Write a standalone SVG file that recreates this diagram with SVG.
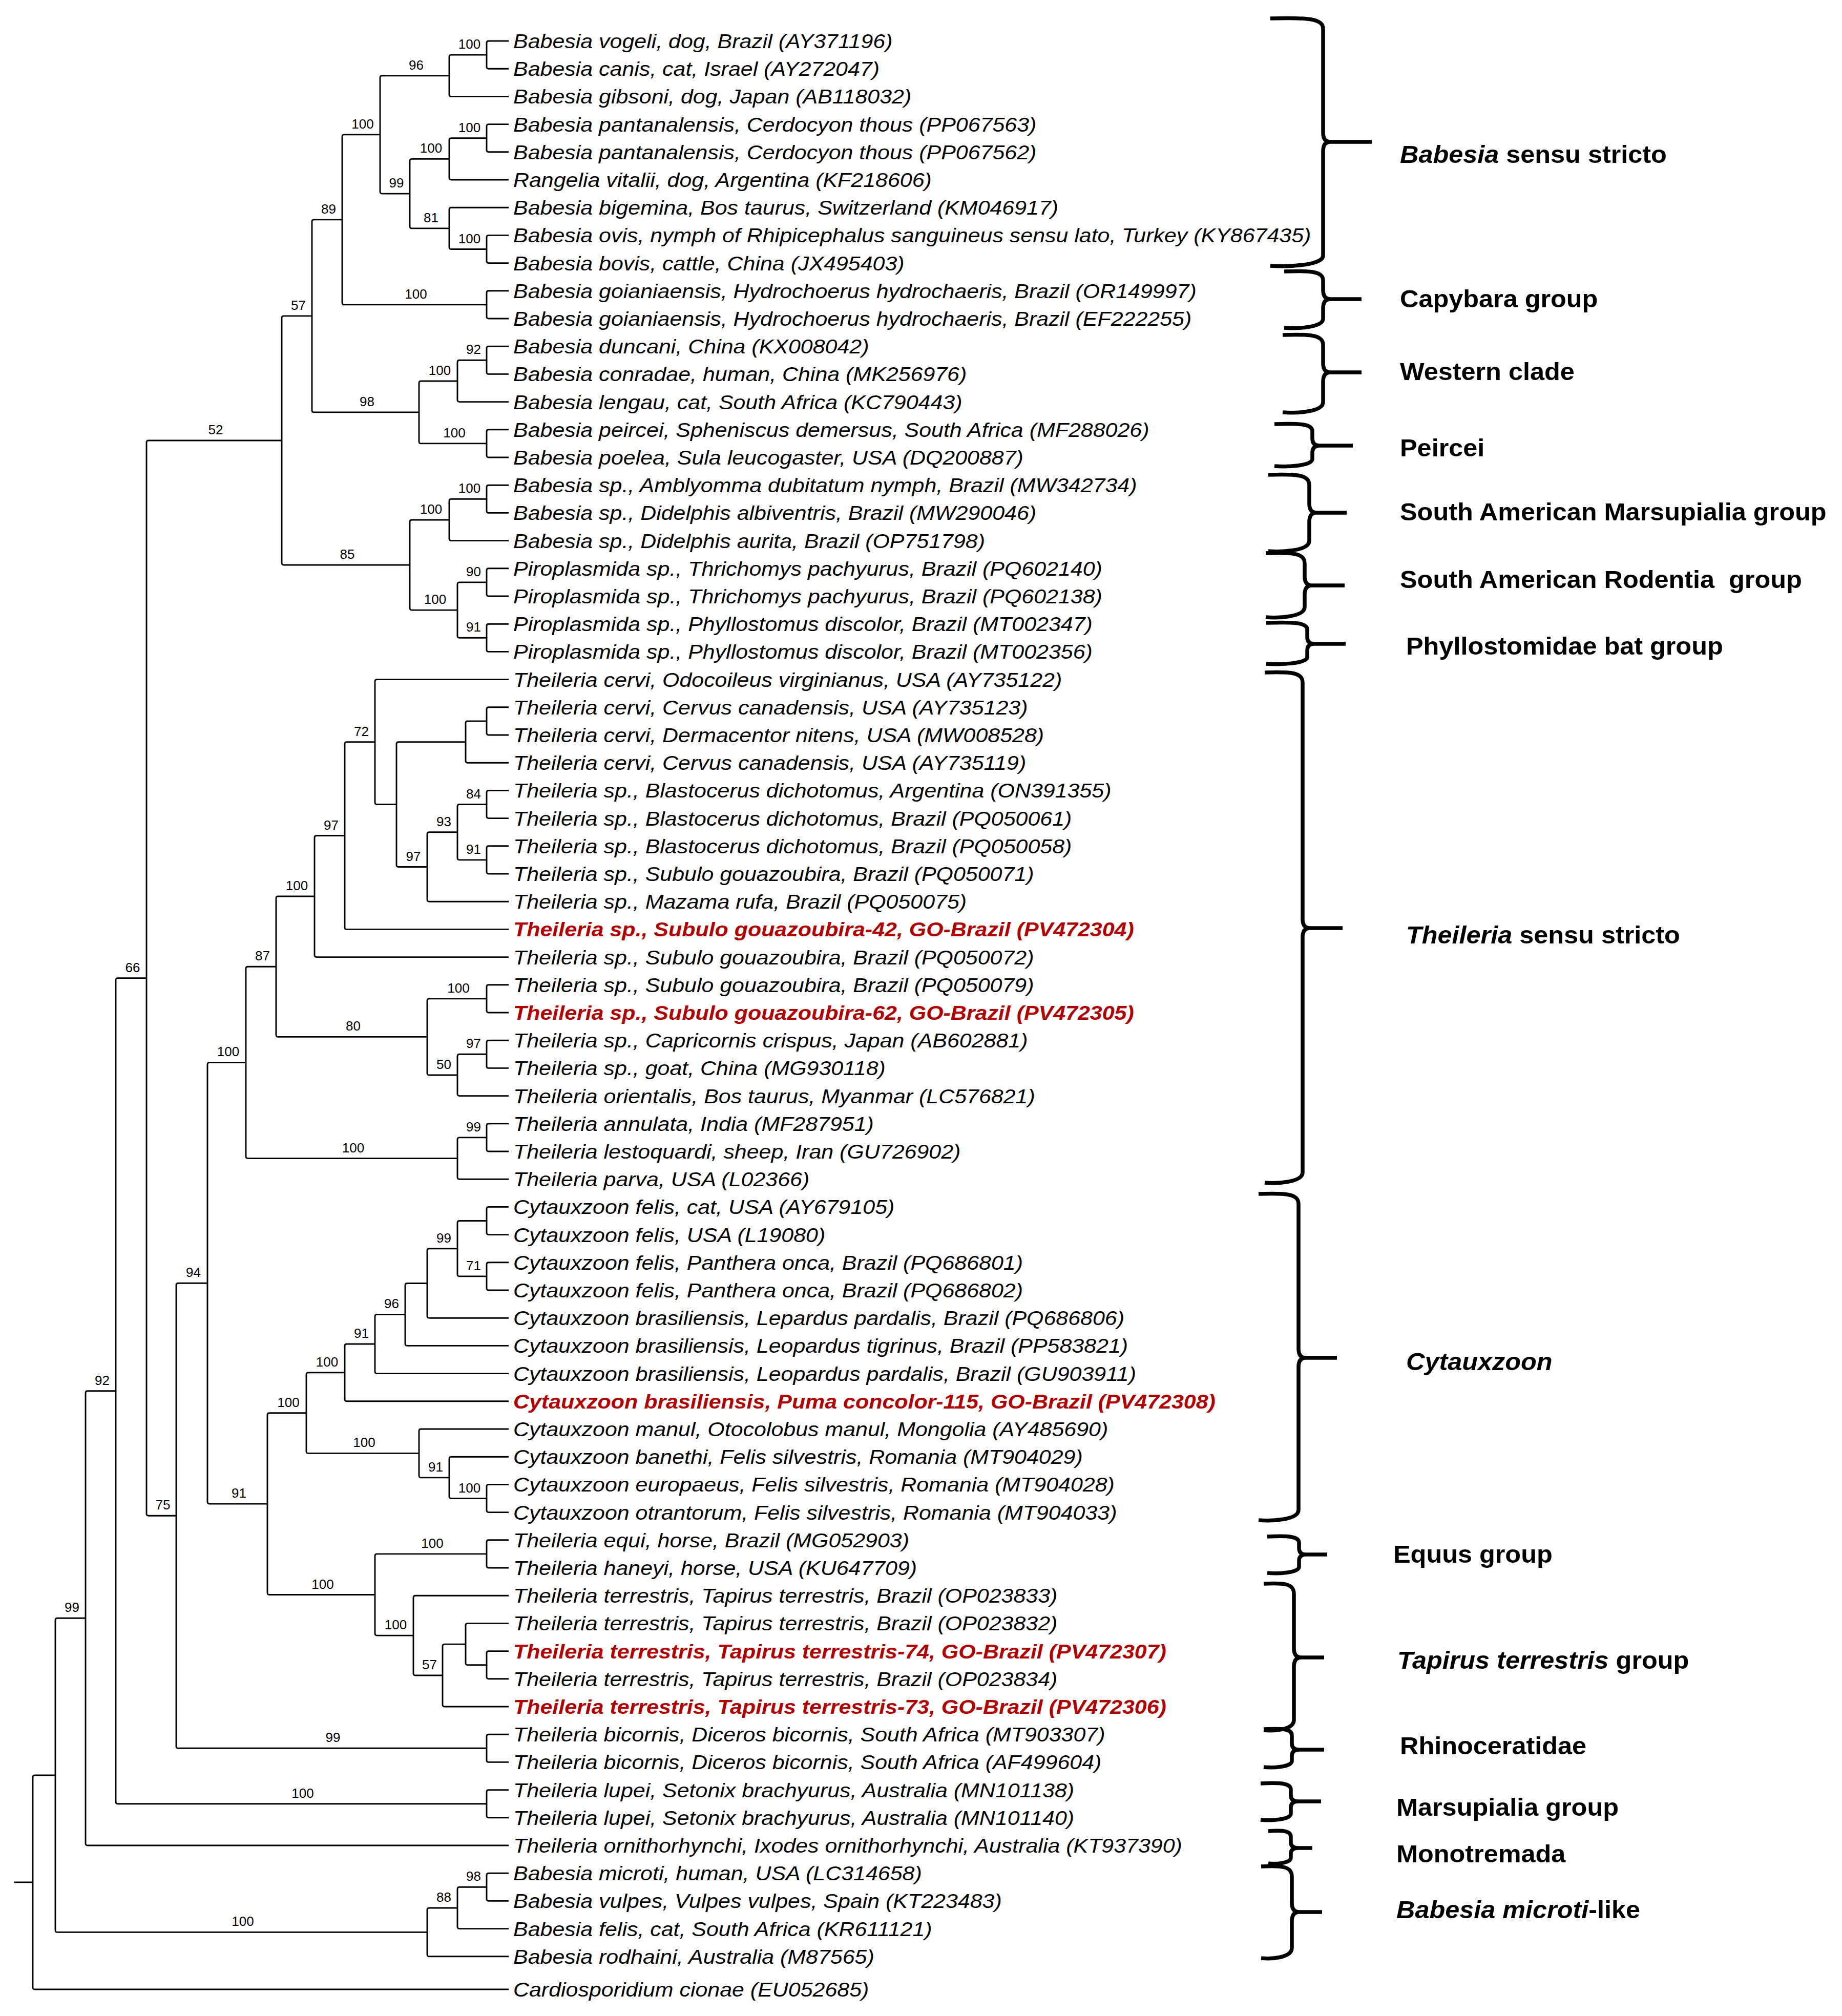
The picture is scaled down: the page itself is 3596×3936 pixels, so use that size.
<svg xmlns="http://www.w3.org/2000/svg" width="3596" height="3936" viewBox="0 0 3596 3936">
<style>
.br{fill:none;stroke:#000;stroke-width:2.9;stroke-linejoin:round}
.bs{font-family:"Liberation Sans",Arial,sans-serif;font-size:26px;text-anchor:middle;fill:#000}
.lf{font-family:"Liberation Sans",Arial,sans-serif;font-size:38px;font-style:italic;fill:#000}
.lr{font-family:"Liberation Sans",Arial,sans-serif;font-size:38px;font-style:italic;font-weight:bold;fill:#B00000}
.brace{fill:none;stroke:#000;stroke-width:7.5;stroke-linejoin:round}
.gl{font-family:"Liberation Sans",Arial,sans-serif;font-size:48px;font-weight:bold;fill:#000;white-space:pre}
.it{font-style:italic}
</style>
<rect width="3596" height="3936" fill="#fff"/>
<g id="connectors">
<path class="br" d="M27 3674.9H64"/>
<path class="br" d="M993 80H954Q950 80 950 84V130.2Q950 134.2 954 134.2H993"/>
<path class="br" d="M950 107.1H881Q877 107.1 877 111.1V184.4Q877 188.4 881 188.4H993"/>
<path class="br" d="M993 242.6H954Q950 242.6 950 246.6V292.8Q950 296.8 954 296.8H993"/>
<path class="br" d="M950 269.7H881Q877 269.7 877 273.7V347Q877 351 881 351H993"/>
<path class="br" d="M993 459.4H954Q950 459.4 950 463.4V509.6Q950 513.6 954 513.6H993"/>
<path class="br" d="M993 405.2H881Q877 405.2 877 409.2V482.5Q877 486.5 881 486.5H950"/>
<path class="br" d="M877 310.4H804Q800 310.4 800 314.4V441.9Q800 445.9 804 445.9H877"/>
<path class="br" d="M877 147.8H746Q742 147.8 742 151.8V374.1Q742 378.1 746 378.1H800"/>
<path class="br" d="M993 567.8H954Q950 567.8 950 571.8V618Q950 622 954 622H993"/>
<path class="br" d="M742 262.9H672Q668 262.9 668 266.9V590.9Q668 594.9 672 594.9H950"/>
<path class="br" d="M993 676.2H954Q950 676.2 950 680.2V726.4Q950 730.4 954 730.4H993"/>
<path class="br" d="M950 703.3H897Q893 703.3 893 707.3V780.6Q893 784.6 897 784.6H993"/>
<path class="br" d="M993 838.8H954Q950 838.8 950 842.8V889Q950 893 954 893H993"/>
<path class="br" d="M893 744H822Q818 744 818 748V861.9Q818 865.9 822 865.9H950"/>
<path class="br" d="M668 428.9H613Q609 428.9 609 432.9V800.9Q609 804.9 613 804.9H818"/>
<path class="br" d="M993 947.2H954Q950 947.2 950 951.2V997.4Q950 1001.4 954 1001.4H993"/>
<path class="br" d="M950 974.3H881Q877 974.3 877 978.3V1051.6Q877 1055.6 881 1055.6H993"/>
<path class="br" d="M993 1109.8H954Q950 1109.8 950 1113.8V1160Q950 1164 954 1164H993"/>
<path class="br" d="M993 1218.2H954Q950 1218.2 950 1222.2V1268.4Q950 1272.4 954 1272.4H993"/>
<path class="br" d="M950 1136.9H897Q893 1136.9 893 1140.9V1241.3Q893 1245.3 897 1245.3H950"/>
<path class="br" d="M877 1015H804Q800 1015 800 1019V1187.1Q800 1191.1 804 1191.1H893"/>
<path class="br" d="M609 616.9H554Q550 616.9 550 620.9V1099Q550 1103 554 1103H800"/>
<path class="br" d="M993 1380.8H954Q950 1380.8 950 1384.8V1431Q950 1435 954 1435H993"/>
<path class="br" d="M950 1407.9H913Q909 1407.9 909 1411.9V1485.2Q909 1489.2 913 1489.2H993"/>
<path class="br" d="M993 1543.4H954Q950 1543.4 950 1547.4V1593.6Q950 1597.6 954 1597.6H993"/>
<path class="br" d="M993 1651.8H954Q950 1651.8 950 1655.8V1702Q950 1706 954 1706H993"/>
<path class="br" d="M950 1570.5H897Q893 1570.5 893 1574.5V1674.9Q893 1678.9 897 1678.9H950"/>
<path class="br" d="M893 1624.7H838Q834 1624.7 834 1628.7V1756.2Q834 1760.2 838 1760.2H993"/>
<path class="br" d="M909 1448.6H778Q774 1448.6 774 1452.6V1688.5Q774 1692.5 778 1692.5H834"/>
<path class="br" d="M993 1326.6H736Q732 1326.6 732 1330.6V1566.5Q732 1570.5 736 1570.5H774"/>
<path class="br" d="M732 1448.6H677Q673 1448.6 673 1452.6V1810.4Q673 1814.4 677 1814.4H993"/>
<path class="br" d="M673 1631.5H618Q614 1631.5 614 1635.5V1864.6Q614 1868.6 618 1868.6H993"/>
<path class="br" d="M993 1922.8H954Q950 1922.8 950 1926.8V1973Q950 1977 954 1977H993"/>
<path class="br" d="M993 2031.2H954Q950 2031.2 950 2035.2V2081.4Q950 2085.4 954 2085.4H993"/>
<path class="br" d="M950 2058.3H897Q893 2058.3 893 2062.3V2135.6Q893 2139.6 897 2139.6H993"/>
<path class="br" d="M950 1949.9H838Q834 1949.9 834 1953.9V2095Q834 2099 838 2099H893"/>
<path class="br" d="M614 1750H543Q539 1750 539 1754V2020.4Q539 2024.4 543 2024.4H834"/>
<path class="br" d="M993 2193.8H954Q950 2193.8 950 2197.8V2244Q950 2248 954 2248H993"/>
<path class="br" d="M950 2220.9H897Q893 2220.9 893 2224.9V2298.2Q893 2302.2 897 2302.2H993"/>
<path class="br" d="M539 1887.2H484Q480 1887.2 480 1891.2V2257.6Q480 2261.6 484 2261.6H893"/>
<path class="br" d="M993 2356.4H954Q950 2356.4 950 2360.4V2406.6Q950 2410.6 954 2410.6H993"/>
<path class="br" d="M993 2464.8H954Q950 2464.8 950 2468.8V2515Q950 2519 954 2519H993"/>
<path class="br" d="M950 2383.5H897Q893 2383.5 893 2387.5V2487.9Q893 2491.9 897 2491.9H950"/>
<path class="br" d="M893 2437.7H838Q834 2437.7 834 2441.7V2569.2Q834 2573.2 838 2573.2H993"/>
<path class="br" d="M834 2505.5H795Q791 2505.5 791 2509.5V2623.4Q791 2627.4 795 2627.4H993"/>
<path class="br" d="M791 2566.4H736Q732 2566.4 732 2570.4V2677.6Q732 2681.6 736 2681.6H993"/>
<path class="br" d="M732 2624H677Q673 2624 673 2628V2731.8Q673 2735.8 677 2735.8H993"/>
<path class="br" d="M993 2898.4H954Q950 2898.4 950 2902.4V2948.6Q950 2952.6 954 2952.6H993"/>
<path class="br" d="M993 2844.2H881Q877 2844.2 877 2848.2V2921.5Q877 2925.5 881 2925.5H950"/>
<path class="br" d="M993 2790H822Q818 2790 818 2794V2880.9Q818 2884.9 822 2884.9H877"/>
<path class="br" d="M673 2679.9H602Q598 2679.9 598 2683.9V2833.4Q598 2837.4 602 2837.4H818"/>
<path class="br" d="M993 3006.8H954Q950 3006.8 950 3010.8V3057Q950 3061 954 3061H993"/>
<path class="br" d="M993 3223.6H954Q950 3223.6 950 3227.6V3273.8Q950 3277.8 954 3277.8H993"/>
<path class="br" d="M993 3169.4H913Q909 3169.4 909 3173.4V3246.7Q909 3250.7 913 3250.7H950"/>
<path class="br" d="M909 3210.1H868Q864 3210.1 864 3214.1V3328Q864 3332 868 3332H993"/>
<path class="br" d="M993 3115.2H811Q807 3115.2 807 3119.2V3267Q807 3271 811 3271H864"/>
<path class="br" d="M950 3033.9H736Q732 3033.9 732 3037.9V3189.1Q732 3193.1 736 3193.1H807"/>
<path class="br" d="M598 2758.7H526Q522 2758.7 522 2762.7V3109.5Q522 3113.5 526 3113.5H732"/>
<path class="br" d="M480 2074.4H409Q405 2074.4 405 2078.4V2932.1Q405 2936.1 409 2936.1H522"/>
<path class="br" d="M993 3386.2H954Q950 3386.2 950 3390.2V3436.4Q950 3440.4 954 3440.4H993"/>
<path class="br" d="M405 2505.3H348Q344 2505.3 344 2509.3V3409.3Q344 3413.3 348 3413.3H950"/>
<path class="br" d="M550 860H290Q286 860 286 864V2955.3Q286 2959.3 290 2959.3H344"/>
<path class="br" d="M993 3494.6H954Q950 3494.6 950 3498.6V3544.8Q950 3548.8 954 3548.8H993"/>
<path class="br" d="M286 1909.6H230Q226 1909.6 226 1913.6V3517.7Q226 3521.7 230 3521.7H950"/>
<path class="br" d="M226 2715.7H171Q167 2715.7 167 2719.7V3599Q167 3603 171 3603H993"/>
<path class="br" d="M993 3657.2H954Q950 3657.2 950 3661.2V3707.4Q950 3711.4 954 3711.4H993"/>
<path class="br" d="M950 3684.3H897Q893 3684.3 893 3688.3V3761.6Q893 3765.6 897 3765.6H993"/>
<path class="br" d="M893 3725H838Q834 3725 834 3729V3815.8Q834 3819.8 838 3819.8H993"/>
<path class="br" d="M167 3159.3H112Q108 3159.3 108 3163.3V3768.4Q108 3772.4 112 3772.4H834"/>
<path class="br" d="M108 3465.9H68Q64 3465.9 64 3469.9V3880Q64 3884 68 3884H993"/>
</g>
<g id="bootstrap">
<text class="bs" x="916.5" y="95.1">100</text>
<text class="bs" x="812.5" y="135.8">96</text>
<text class="bs" x="916.5" y="257.7">100</text>
<text class="bs" x="841.5" y="298.4">100</text>
<text class="bs" x="916.5" y="474.5">100</text>
<text class="bs" x="841.5" y="433.9">81</text>
<text class="bs" x="774" y="366.1">99</text>
<text class="bs" x="708" y="250.9">100</text>
<text class="bs" x="812" y="582.9">100</text>
<text class="bs" x="641.5" y="416.9">89</text>
<text class="bs" x="924.5" y="691.3">92</text>
<text class="bs" x="858.5" y="732">100</text>
<text class="bs" x="887" y="853.9">100</text>
<text class="bs" x="716.5" y="792.9">98</text>
<text class="bs" x="582.5" y="604.9">57</text>
<text class="bs" x="916.5" y="962.3">100</text>
<text class="bs" x="841.5" y="1003">100</text>
<text class="bs" x="924.5" y="1124.9">90</text>
<text class="bs" x="924.5" y="1233.3">91</text>
<text class="bs" x="849.5" y="1179.1">100</text>
<text class="bs" x="678" y="1091">85</text>
<text class="bs" x="421" y="848">52</text>
<text class="bs" x="705.5" y="1436.6">72</text>
<text class="bs" x="924.5" y="1558.5">84</text>
<text class="bs" x="924.5" y="1666.9">91</text>
<text class="bs" x="866.5" y="1612.7">93</text>
<text class="bs" x="807" y="1680.5">97</text>
<text class="bs" x="646.5" y="1619.5">97</text>
<text class="bs" x="579.5" y="1738">100</text>
<text class="bs" x="895" y="1937.9">100</text>
<text class="bs" x="924.5" y="2046.3">97</text>
<text class="bs" x="866.5" y="2087">50</text>
<text class="bs" x="689.5" y="2012.4">80</text>
<text class="bs" x="512.5" y="1875.2">87</text>
<text class="bs" x="924.5" y="2208.9">99</text>
<text class="bs" x="689.5" y="2249.6">100</text>
<text class="bs" x="445.5" y="2062.4">100</text>
<text class="bs" x="924.5" y="2479.9">71</text>
<text class="bs" x="866.5" y="2425.7">99</text>
<text class="bs" x="764.5" y="2554.4">96</text>
<text class="bs" x="705.5" y="2612">91</text>
<text class="bs" x="638.5" y="2667.9">100</text>
<text class="bs" x="916.5" y="2913.5">100</text>
<text class="bs" x="850.5" y="2872.9">91</text>
<text class="bs" x="711" y="2825.4">100</text>
<text class="bs" x="563" y="2746.7">100</text>
<text class="bs" x="844" y="3021.9">100</text>
<text class="bs" x="838.5" y="3259">57</text>
<text class="bs" x="772.5" y="3181.1">100</text>
<text class="bs" x="630" y="3101.5">100</text>
<text class="bs" x="466.5" y="2924.1">91</text>
<text class="bs" x="377.5" y="2493.3">94</text>
<text class="bs" x="650" y="3401.3">99</text>
<text class="bs" x="318" y="2947.3">75</text>
<text class="bs" x="259" y="1897.6">66</text>
<text class="bs" x="591" y="3509.7">100</text>
<text class="bs" x="199.5" y="2703.7">92</text>
<text class="bs" x="140.5" y="3147.3">99</text>
<text class="bs" x="924.5" y="3672.3">98</text>
<text class="bs" x="866.5" y="3713">88</text>
<text class="bs" x="474" y="3760.4">100</text>
</g>
<g id="leaves" transform="translate(1002 0) scale(1.13 1)">
<g id="leaf-1"><text class="lf" x="0" y="94">Babesia vogeli, dog, Brazil (AY371196)</text></g>
<g id="leaf-2"><text class="lf" x="0" y="148.2">Babesia canis, cat, Israel (AY272047)</text></g>
<g id="leaf-3"><text class="lf" x="0" y="202.4">Babesia gibsoni, dog, Japan (AB118032)</text></g>
<g id="leaf-4"><text class="lf" x="0" y="256.6">Babesia pantanalensis, Cerdocyon thous (PP067563)</text></g>
<g id="leaf-5"><text class="lf" x="0" y="310.8">Babesia pantanalensis, Cerdocyon thous (PP067562)</text></g>
<g id="leaf-6"><text class="lf" x="0" y="365">Rangelia vitalii, dog, Argentina (KF218606)</text></g>
<g id="leaf-7"><text class="lf" x="0" y="419.2">Babesia bigemina, Bos taurus, Switzerland (KM046917)</text></g>
<g id="leaf-8"><text class="lf" x="0" y="473.4">Babesia ovis, nymph of Rhipicephalus sanguineus sensu lato, Turkey (KY867435)</text></g>
<g id="leaf-9"><text class="lf" x="0" y="527.6">Babesia bovis, cattle, China (JX495403)</text></g>
<g id="leaf-10"><text class="lf" x="0" y="581.8">Babesia goianiaensis, Hydrochoerus hydrochaeris, Brazil (OR149997)</text></g>
<g id="leaf-11"><text class="lf" x="0" y="636">Babesia goianiaensis, Hydrochoerus hydrochaeris, Brazil (EF222255)</text></g>
<g id="leaf-12"><text class="lf" x="0" y="690.2">Babesia duncani, China (KX008042)</text></g>
<g id="leaf-13"><text class="lf" x="0" y="744.4">Babesia conradae, human, China (MK256976)</text></g>
<g id="leaf-14"><text class="lf" x="0" y="798.6">Babesia lengau, cat, South Africa (KC790443)</text></g>
<g id="leaf-15"><text class="lf" x="0" y="852.8">Babesia peircei, Spheniscus demersus, South Africa (MF288026)</text></g>
<g id="leaf-16"><text class="lf" x="0" y="907">Babesia poelea, Sula leucogaster, USA (DQ200887)</text></g>
<g id="leaf-17"><text class="lf" x="0" y="961.2">Babesia sp., Amblyomma dubitatum nymph, Brazil (MW342734)</text></g>
<g id="leaf-18"><text class="lf" x="0" y="1015.4">Babesia sp., Didelphis albiventris, Brazil (MW290046)</text></g>
<g id="leaf-19"><text class="lf" x="0" y="1069.6">Babesia sp., Didelphis aurita, Brazil (OP751798)</text></g>
<g id="leaf-20"><text class="lf" x="0" y="1123.8">Piroplasmida sp., Thrichomys pachyurus, Brazil (PQ602140)</text></g>
<g id="leaf-21"><text class="lf" x="0" y="1178">Piroplasmida sp., Thrichomys pachyurus, Brazil (PQ602138)</text></g>
<g id="leaf-22"><text class="lf" x="0" y="1232.2">Piroplasmida sp., Phyllostomus discolor, Brazil (MT002347)</text></g>
<g id="leaf-23"><text class="lf" x="0" y="1286.4">Piroplasmida sp., Phyllostomus discolor, Brazil (MT002356)</text></g>
<g id="leaf-24"><text class="lf" x="0" y="1340.6">Theileria cervi, Odocoileus virginianus, USA (AY735122)</text></g>
<g id="leaf-25"><text class="lf" x="0" y="1394.8">Theileria cervi, Cervus canadensis, USA (AY735123)</text></g>
<g id="leaf-26"><text class="lf" x="0" y="1449">Theileria cervi, Dermacentor nitens, USA (MW008528)</text></g>
<g id="leaf-27"><text class="lf" x="0" y="1503.2">Theileria cervi, Cervus canadensis, USA (AY735119)</text></g>
<g id="leaf-28"><text class="lf" x="0" y="1557.4">Theileria sp., Blastocerus dichotomus, Argentina (ON391355)</text></g>
<g id="leaf-29"><text class="lf" x="0" y="1611.6">Theileria sp., Blastocerus dichotomus, Brazil (PQ050061)</text></g>
<g id="leaf-30"><text class="lf" x="0" y="1665.8">Theileria sp., Blastocerus dichotomus, Brazil (PQ050058)</text></g>
<g id="leaf-31"><text class="lf" x="0" y="1720">Theileria sp., Subulo gouazoubira, Brazil (PQ050071)</text></g>
<g id="leaf-32"><text class="lf" x="0" y="1774.2">Theileria sp., Mazama rufa, Brazil (PQ050075)</text></g>
<g id="leaf-33"><text class="lr" x="0" y="1828.4">Theileria sp., Subulo gouazoubira-42, GO-Brazil (PV472304)</text></g>
<g id="leaf-34"><text class="lf" x="0" y="1882.6">Theileria sp., Subulo gouazoubira, Brazil (PQ050072)</text></g>
<g id="leaf-35"><text class="lf" x="0" y="1936.8">Theileria sp., Subulo gouazoubira, Brazil (PQ050079)</text></g>
<g id="leaf-36"><text class="lr" x="0" y="1991">Theileria sp., Subulo gouazoubira-62, GO-Brazil (PV472305)</text></g>
<g id="leaf-37"><text class="lf" x="0" y="2045.2">Theileria sp., Capricornis crispus, Japan (AB602881)</text></g>
<g id="leaf-38"><text class="lf" x="0" y="2099.4">Theileria sp., goat, China (MG930118)</text></g>
<g id="leaf-39"><text class="lf" x="0" y="2153.6">Theileria orientalis, Bos taurus, Myanmar (LC576821)</text></g>
<g id="leaf-40"><text class="lf" x="0" y="2207.8">Theileria annulata, India (MF287951)</text></g>
<g id="leaf-41"><text class="lf" x="0" y="2262">Theileria lestoquardi, sheep, Iran (GU726902)</text></g>
<g id="leaf-42"><text class="lf" x="0" y="2316.2">Theileria parva, USA (L02366)</text></g>
<g id="leaf-43"><text class="lf" x="0" y="2370.4">Cytauxzoon felis, cat, USA (AY679105)</text></g>
<g id="leaf-44"><text class="lf" x="0" y="2424.6">Cytauxzoon felis, USA (L19080)</text></g>
<g id="leaf-45"><text class="lf" x="0" y="2478.8">Cytauxzoon felis, Panthera onca, Brazil (PQ686801)</text></g>
<g id="leaf-46"><text class="lf" x="0" y="2533">Cytauxzoon felis, Panthera onca, Brazil (PQ686802)</text></g>
<g id="leaf-47"><text class="lf" x="0" y="2587.2">Cytauxzoon brasiliensis, Lepardus pardalis, Brazil (PQ686806)</text></g>
<g id="leaf-48"><text class="lf" x="0" y="2641.4">Cytauxzoon brasiliensis, Leopardus tigrinus, Brazil (PP583821)</text></g>
<g id="leaf-49"><text class="lf" x="0" y="2695.6">Cytauxzoon brasiliensis, Leopardus pardalis, Brazil (GU903911)</text></g>
<g id="leaf-50"><text class="lr" x="0" y="2749.8">Cytauxzoon brasiliensis, Puma concolor-115, GO-Brazil (PV472308)</text></g>
<g id="leaf-51"><text class="lf" x="0" y="2804">Cytauxzoon manul, Otocolobus manul, Mongolia (AY485690)</text></g>
<g id="leaf-52"><text class="lf" x="0" y="2858.2">Cytauxzoon banethi, Felis silvestris, Romania (MT904029)</text></g>
<g id="leaf-53"><text class="lf" x="0" y="2912.4">Cytauxzoon europaeus, Felis silvestris, Romania (MT904028)</text></g>
<g id="leaf-54"><text class="lf" x="0" y="2966.6">Cytauxzoon otrantorum, Felis silvestris, Romania (MT904033)</text></g>
<g id="leaf-55"><text class="lf" x="0" y="3020.8">Theileria equi, horse, Brazil (MG052903)</text></g>
<g id="leaf-56"><text class="lf" x="0" y="3075">Theileria haneyi, horse, USA (KU647709)</text></g>
<g id="leaf-57"><text class="lf" x="0" y="3129.2">Theileria terrestris, Tapirus terrestris, Brazil (OP023833)</text></g>
<g id="leaf-58"><text class="lf" x="0" y="3183.4">Theileria terrestris, Tapirus terrestris, Brazil (OP023832)</text></g>
<g id="leaf-59"><text class="lr" x="0" y="3237.6">Theileria terrestris, Tapirus terrestris-74, GO-Brazil (PV472307)</text></g>
<g id="leaf-60"><text class="lf" x="0" y="3291.8">Theileria terrestris, Tapirus terrestris, Brazil (OP023834)</text></g>
<g id="leaf-61"><text class="lr" x="0" y="3346">Theileria terrestris, Tapirus terrestris-73, GO-Brazil (PV472306)</text></g>
<g id="leaf-62"><text class="lf" x="0" y="3400.2">Theileria bicornis, Diceros bicornis, South Africa (MT903307)</text></g>
<g id="leaf-63"><text class="lf" x="0" y="3454.4">Theileria bicornis, Diceros bicornis, South Africa (AF499604)</text></g>
<g id="leaf-64"><text class="lf" x="0" y="3508.6">Theileria lupei, Setonix brachyurus, Australia (MN101138)</text></g>
<g id="leaf-65"><text class="lf" x="0" y="3562.8">Theileria lupei, Setonix brachyurus, Australia (MN101140)</text></g>
<g id="leaf-66"><text class="lf" x="0" y="3617">Theileria ornithorhynchi, Ixodes ornithorhynchi, Australia (KT937390)</text></g>
<g id="leaf-67"><text class="lf" x="0" y="3671.2">Babesia microti, human, USA (LC314658)</text></g>
<g id="leaf-68"><text class="lf" x="0" y="3725.4">Babesia vulpes, Vulpes vulpes, Spain (KT223483)</text></g>
<g id="leaf-69"><text class="lf" x="0" y="3779.6">Babesia felis, cat, South Africa (KR611121)</text></g>
<g id="leaf-70"><text class="lf" x="0" y="3833.8">Babesia rodhaini, Australia (M87565)</text></g>
<g id="leaf-71"><text class="lf" x="0" y="3898">Cardiosporidium cionae (EU052685)</text></g>
</g>
<g id="groups">
<g id="grp-babesia-ss"><path class="brace" d="M2480 36C2552 34 2583 36 2583 56L2583 259Q2583 277 2597 277Q2583 277 2583 295L2583 499C2583 519 2511 521 2480 519M2593 277H2678"/><text class="gl" transform="translate(2733 318) scale(1.05 1)"><tspan class="it">Babesia</tspan> sensu stricto</text></g>
<g id="grp-capybara"><path class="brace" d="M2507 530C2560 528 2583 530 2583 548L2583 566Q2583 584 2597 584Q2583 584 2583 602L2583 622C2583 640 2530 642 2507 640M2593 584H2658"/><text class="gl" transform="translate(2733 600) scale(1.05 1)">Capybara group</text></g>
<g id="grp-western"><path class="brace" d="M2504 654C2559 652 2583 654 2583 674L2583 709Q2583 727 2597 727Q2583 727 2583 745L2583 785C2583 805 2528 807 2504 805M2593 727H2658"/><text class="gl" transform="translate(2733 742) scale(1.05 1)">Western clade</text></g>
<g id="grp-peircei"><path class="brace" d="M2488 828C2540 826 2562 828 2562 842L2562 856Q2562 870 2576 870Q2562 870 2562 884L2562 896C2562 910 2510 912 2488 910M2572 870H2641"/><text class="gl" transform="translate(2733 891) scale(1.05 1)">Peircei</text></g>
<g id="grp-sa-marsupialia"><path class="brace" d="M2476 927C2532 925 2556 927 2556 947L2556 983Q2556 1001 2570 1001Q2556 1001 2556 1019L2556 1056C2556 1076 2500 1078 2476 1076M2566 1001H2629"/><text class="gl" transform="translate(2733 1016) scale(1.05 1)">South American Marsupialia group</text></g>
<g id="grp-sa-rodentia"><path class="brace" d="M2471 1080C2524 1078 2547 1080 2547 1100L2547 1125Q2547 1143 2561 1143Q2547 1143 2547 1161L2547 1185C2547 1205 2494 1207 2471 1205M2557 1143H2625"/><text class="gl" transform="translate(2733 1148) scale(1.05 1)">South American Rodentia  group</text></g>
<g id="grp-phyllostomidae"><path class="brace" d="M2472 1216C2528 1214 2552 1216 2552 1229L2552 1244Q2552 1257 2566 1257Q2552 1257 2552 1270L2552 1283C2552 1296 2496 1298 2472 1296M2562 1257H2627"/><text class="gl" transform="translate(2745 1278) scale(1.05 1)">Phyllostomidae bat group</text></g>
<g id="grp-theileria-ss"><path class="brace" d="M2469 1313C2521 1311 2543 1313 2543 1333L2543 1794Q2543 1812 2557 1812Q2543 1812 2543 1830L2543 2289C2543 2309 2491 2311 2469 2309M2553 1812H2621"/><text class="gl" transform="translate(2745 1842) scale(1.05 1)"><tspan class="it">Theileria</tspan> sensu stricto</text></g>
<g id="grp-cytauxzoon"><path class="brace" d="M2457 2331C2512 2329 2535 2331 2535 2351L2535 2633Q2535 2651 2549 2651Q2535 2651 2535 2669L2535 2948C2535 2968 2480 2970 2457 2968M2545 2651H2610"/><text class="gl" transform="translate(2745 2675) scale(1.05 1)"><tspan class="it">Cytauxzoon</tspan></text></g>
<g id="grp-equus"><path class="brace" d="M2474 3000C2517 2998 2536 3000 2536 3012L2536 3023Q2536 3035 2550 3035Q2536 3035 2536 3047L2536 3059C2536 3071 2493 3073 2474 3071M2546 3035H2591"/><text class="gl" transform="translate(2720 3051) scale(1.05 1)">Equus group</text></g>
<g id="grp-tapirus"><path class="brace" d="M2467 3092C2508 3090 2526 3092 2526 3112L2526 3218Q2526 3236 2540 3236Q2526 3236 2526 3254L2526 3358C2526 3378 2485 3380 2467 3378M2536 3236H2585"/><text class="gl" transform="translate(2728 3258) scale(1.05 1)"><tspan class="it">Tapirus terrestris</tspan> group</text></g>
<g id="grp-rhinoceratidae"><path class="brace" d="M2467 3376C2506 3374 2522 3376 2522 3388L2522 3404Q2522 3416 2536 3416Q2522 3416 2522 3428L2522 3438C2522 3450 2484 3452 2467 3450M2532 3416H2585"/><text class="gl" transform="translate(2733 3425) scale(1.05 1)">Rhinoceratidae</text></g>
<g id="grp-marsupialia"><path class="brace" d="M2461 3482C2502 3480 2520 3482 2520 3494L2520 3505Q2520 3517 2534 3517Q2520 3517 2520 3529L2520 3541C2520 3553 2479 3555 2461 3553M2530 3517H2579"/><text class="gl" transform="translate(2726 3545) scale(1.05 1)">Marsupialia group</text></g>
<g id="grp-monotremada"><path class="brace" d="M2476 3575C2507 3573 2520 3575 2520 3586L2520 3597Q2520 3608 2534 3608Q2520 3608 2520 3619L2520 3627C2520 3638 2489 3640 2476 3638M2530 3608H2562"/><text class="gl" transform="translate(2726 3636) scale(1.05 1)">Monotremada</text></g>
<g id="grp-microti"><path class="brace" d="M2462 3644C2504 3642 2522 3644 2522 3664L2522 3715Q2522 3733 2536 3733Q2522 3733 2522 3751L2522 3803C2522 3823 2480 3825 2462 3823M2532 3733H2581"/><text class="gl" transform="translate(2726 3745) scale(1.05 1)"><tspan class="it">Babesia microti</tspan>-like</text></g>
</g>
</svg>
